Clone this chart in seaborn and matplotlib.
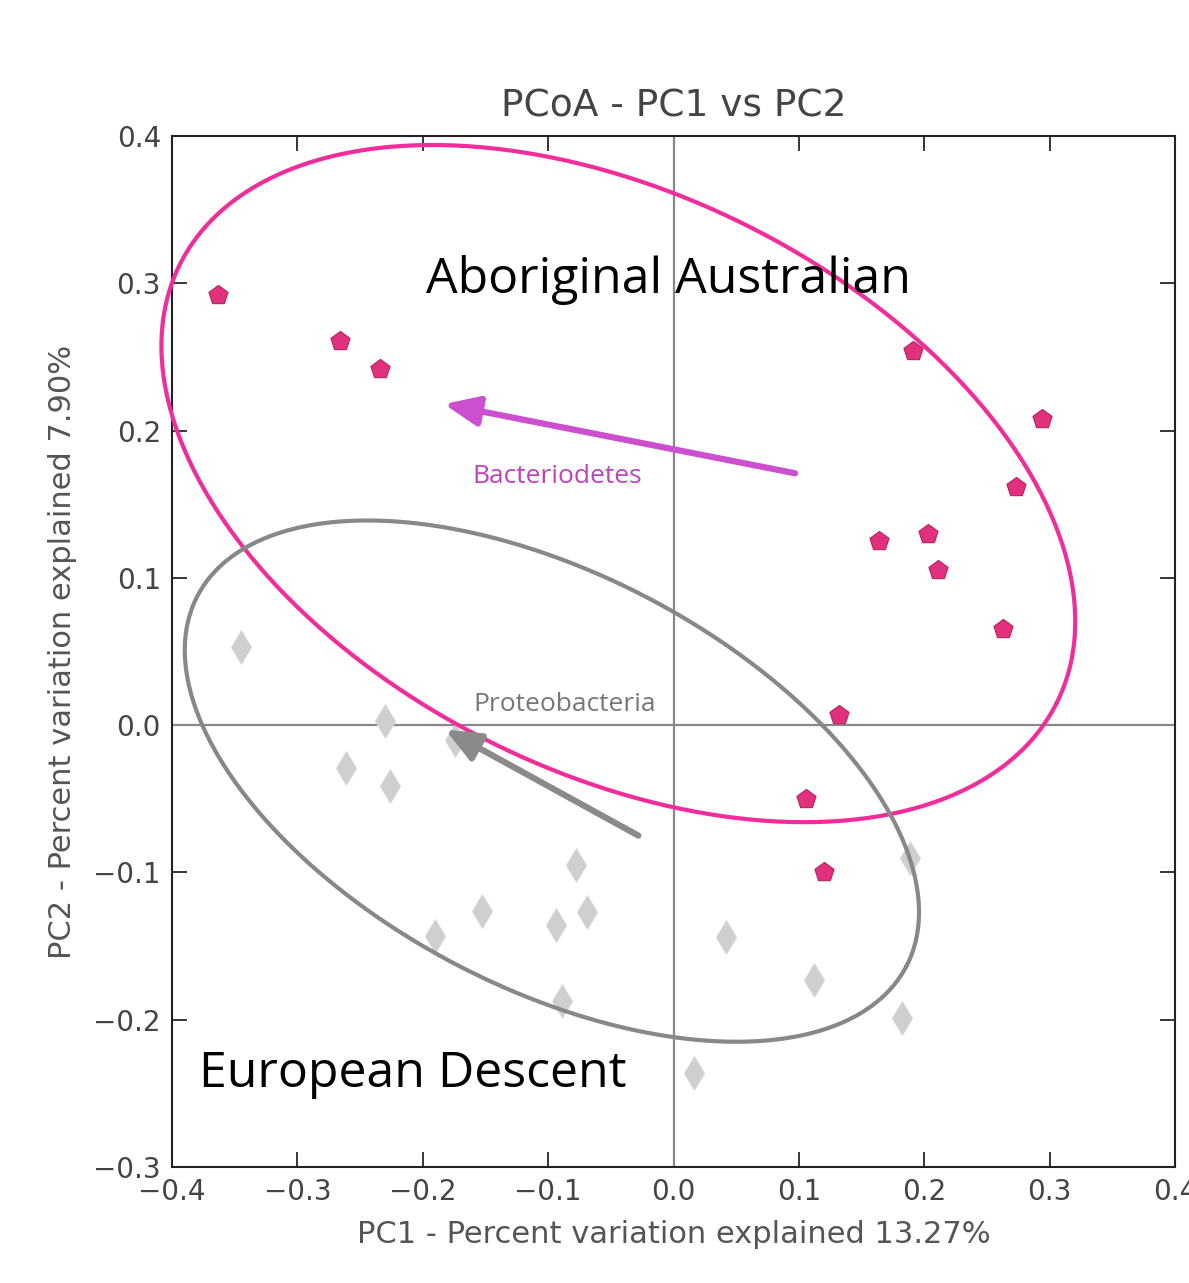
import numpy as np
import pandas as pd
import matplotlib
matplotlib.use("Agg")
import matplotlib.pyplot as plt
import seaborn as sns

# sample coordinates
aborig_pc1 = [-0.363, -0.266, -0.234, 0.191, 0.294, 0.273, 0.164, 0.203, 0.211, 0.263, 0.132, 0.106, 0.120]
aborig_pc2 = [0.292, 0.261, 0.242, 0.254, 0.208, 0.162, 0.125, 0.130, 0.105, 0.065, 0.007, -0.050, -0.100]
euro_pc1 = [-0.345, -0.230, -0.261, -0.226, -0.174, -0.078, -0.153, -0.190, -0.094, -0.069, -0.089,
            0.189, 0.042, 0.112, 0.182, 0.016]
euro_pc2 = [0.053, 0.003, -0.029, -0.041, -0.010, -0.095, -0.126, -0.143, -0.136, -0.127, -0.187,
            -0.090, -0.144, -0.173, -0.199, -0.236]

# taxa biplot arrows (tail -> head)
taxa = ["Bacteriodetes", "Proteobacteria"]
arrow_tail = [(0.097, 0.171), (-0.028, -0.075)]
arrow_head = [(-0.183, 0.218), (-0.182, -0.003)]

# group ellipses: center, semi-axes (x units), angle in degrees
ell_center = [(-0.044, 0.164), (-0.097, -0.038)]
ell_axes = [(0.391, 0.230), (0.319, 0.165)]
ell_angle = [-26.6, -27.6]

xticks = [-0.4, -0.3, -0.2, -0.1, 0.0, 0.1, 0.2, 0.3, 0.4]
yticks = [-0.3, -0.2, -0.1, 0.0, 0.1, 0.2, 0.3, 0.4]

df = pd.DataFrame({
    "PC1": aborig_pc1 + euro_pc1,
    "PC2": aborig_pc2 + euro_pc2,
    "group": ["Aboriginal Australian"] * len(aborig_pc1) + ["European Descent"] * len(euro_pc1),
})

sns.set_style("ticks")
plt.rcParams["font.family"] = ["DejaVu Sans"]

fig = plt.figure(figsize=(11.89, 12.83), dpi=100)
ax = fig.add_axes([0.1447, 0.0904, 0.8435, 0.8036])

ax.set_xlim(-0.4, 0.4)
ax.set_ylim(-0.3, 0.4)

ax.axvline(0, color="#888888", lw=1.6, zorder=1)
ax.axhline(0, color="#888888", lw=1.6, zorder=1)

sns.scatterplot(data=df[df.group == "European Descent"], x="PC1", y="PC2", ax=ax,
                marker="d", s=300, color="#cfcfcf", edgecolor="#d8d8d8", linewidth=0.5,
                legend=False, zorder=2)
sns.scatterplot(data=df[df.group == "Aboriginal Australian"], x="PC1", y="PC2", ax=ax,
                marker="p", s=210, color="#e0307e", edgecolor="#b8235f", linewidth=0.8,
                legend=False, zorder=3)

# y pixels per unit / x pixels per unit of the axes box
r = (0.8036 * 12.83 / 0.7) / (0.8435 * 11.89 / 0.8)
t = np.linspace(0, 2 * np.pi, 400)
for (cx, cy), (a, b), ang, col in zip(ell_center, ell_axes, ell_angle, ["#f02d9a", "#888888"]):
    th = np.deg2rad(ang)
    dx = a * np.cos(t) * np.cos(th) - b * np.sin(t) * np.sin(th)
    dy = a * np.cos(t) * np.sin(th) + b * np.sin(t) * np.cos(th)
    ax.plot(cx + dx, cy + dy / r, color=col, lw=3, zorder=4, clip_on=False)

arrow_cols = ["#cc4fcf", "#8a8a8a"]
for (tx, ty), (hx, hy), col in zip(arrow_tail, arrow_head, arrow_cols):
    ax.annotate("", xy=(hx, hy), xytext=(tx, ty),
                arrowprops=dict(arrowstyle="-|>,head_width=0.3,head_length=0.7", color=col,
                                lw=4.5, mutation_scale=30, shrinkA=0, shrinkB=0), zorder=5)

ax.text(-0.093, 0.169, taxa[0], color="#c040c0", fontsize=19, ha="center", va="center",
        family="Open Sans", zorder=6)
ax.text(-0.087, 0.014, taxa[1], color="#777777", fontsize=19, ha="center", va="center",
        family="Open Sans", zorder=6)

ax.text(-0.004, 0.302, "Aboriginal Australian", fontsize=36, ha="center", va="center",
        family="Open Sans", color="#000000", zorder=6)
ax.text(-0.208, -0.237, "European Descent", fontsize=36, ha="center", va="center",
        family="Open Sans", color="#000000", zorder=6)

def fmt(v):
    s = f"{v:.1f}"
    return "0.0" if s in ("-0.0", "0.0") else s.replace("-", "\u2212")

ax.set_xticks(xticks)
ax.set_yticks(yticks)
ax.set_xticklabels([fmt(v) for v in xticks])
ax.set_yticklabels([fmt(v) for v in yticks])
ax.tick_params(direction="in", length=11, width=1.3, top=True, right=True,
               labelsize=20, labelcolor="#444444", pad=8)
for sp in ax.spines.values():
    sp.set_linewidth(1.5)
    sp.set_color("#222222")

ax.set_title("PCoA - PC1 vs PC2", fontsize=27, color="#444444", pad=14)
ax.set_xlabel("PC1 - Percent variation explained 13.27%", fontsize=22, color="#555555", labelpad=10)
ax.set_ylabel("PC2 - Percent variation explained 7.90%", fontsize=22, color="#555555", labelpad=12)

fig.savefig("out.png", dpi=100)
